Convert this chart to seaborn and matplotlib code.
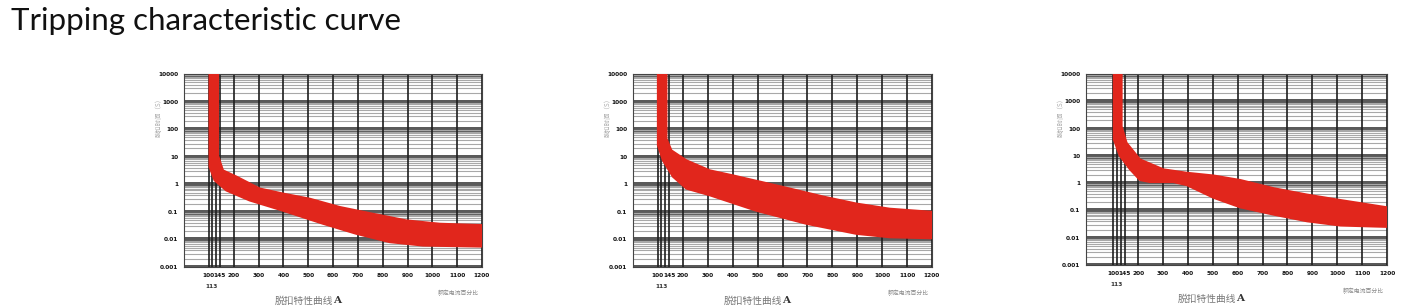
import numpy as np
import pandas as pd
import matplotlib
matplotlib.use("Agg")
import matplotlib.pyplot as plt
from matplotlib.ticker import LogLocator, NullFormatter
import seaborn as sns

# ---------------- data ----------------
title = "Tripping characteristic curve"
x_ticks = [100, 145, 200, 300, 400, 500, 600, 700, 800, 900, 1000, 1100, 1200]
x_tick_labels = ["100", "145", "200", "300", "400", "500", "600", "700", "800", "900", "1000", "1100", "1200"]
x_sub_tick = 113
x_sub_label = "113"
x_grid = [100, 113, 130, 145, 200, 300, 400, 500, 600, 700, 800, 900, 1000, 1100, 1200]
y_ticks = [0.001, 0.01, 0.1, 1, 10, 100, 1000, 10000]
y_tick_labels = ["0.001", "0.01", "0.1", "1", "10", "100", "1000", "10000"]
x_label = "脱扣特性曲线"
x_label_unit = "A"
y_label = "脱扣时间（S）"
note = "额定电流百分比"

# panel 1 band
p1_upper_x = [137, 137, 157, 211, 305, 399, 506, 627, 761, 895, 1030, 1200]
p1_upper_t = [10000, 11, 3.2, 1.9, 0.7, 0.46, 0.3, 0.15, 0.085, 0.049, 0.037, 0.033]
p1_lower_x = [103, 103, 123, 170, 264, 399, 560, 694, 828, 962, 1200]
p1_lower_t = [10000, 4.3, 1.4, 0.6, 0.26, 0.11, 0.037, 0.016, 0.008, 0.006, 0.0055]

# panel 2 band
p2_upper_x = [134, 134, 154, 214, 308, 401, 602, 763, 896, 1030, 1200]
p2_upper_t = [10000, 46, 17, 7.4, 3.2, 2.1, 0.8, 0.36, 0.2, 0.13, 0.1]
p2_lower_x = [100, 100, 120, 160, 214, 308, 495, 696, 896, 1030, 1200]
p2_lower_t = [10000, 26, 7.4, 1.9, 0.7, 0.4, 0.11, 0.037, 0.016, 0.012, 0.011]

# panel 3 band
p3_upper_x = [133, 133, 153, 207, 301, 395, 503, 610, 745, 879, 1013, 1200]
p3_upper_t = [10000, 120, 30, 7.4, 3.2, 2.4, 1.9, 1.3, 0.65, 0.38, 0.24, 0.13]
p3_lower_x = [102, 102, 126, 167, 207, 247, 341, 395, 503, 610, 745, 879, 1013, 1200]
p3_lower_t = [10000, 40, 10, 3.2, 1.3, 1.1, 1.1, 0.85, 0.29, 0.13, 0.07, 0.04, 0.028, 0.025]

panels = [
    (p1_upper_x, p1_upper_t, p1_lower_x, p1_lower_t),
    (p2_upper_x, p2_upper_t, p2_lower_x, p2_lower_t),
    (p3_upper_x, p3_upper_t, p3_lower_x, p3_lower_t),
]

# ---------------- style ----------------
sns.set_style("white")
plt.rcParams["font.family"] = ["DejaVu Sans"]
RED = "#e1261c"
cjk = ["Noto Sans CJK SC", "DejaVu Sans"]

fig = plt.figure(figsize=(14.14, 3.06), dpi=100)
fig.text(11 / 1414, 1 - 21 / 306, title, fontsize=22.5, family="Lato",
         va="center", ha="left", color="#111111")

rects = [
    (184, 74, 482, 267, 0),
    (633, 74, 932, 267, 0),
    (1086, 74, 1387, 265, -10),
]

for (l, t, r, b, x0), (ux, ut, lx, lt) in zip(rects, panels):
    ax = fig.add_axes([l / 1414, 1 - b / 306, (r - l) / 1414, (b - t) / 306])
    ax.set_yscale("log")
    ax.set_xlim(x0, 1200)
    ax.set_ylim(0.001, 10000)

    # grid: minor gray lines, dark decade bands, dark vertical lines
    ax.yaxis.set_minor_locator(LogLocator(base=10, subs=[2, 3, 4, 5, 6, 7, 8, 9], numticks=20))
    ax.yaxis.set_minor_formatter(NullFormatter())
    ax.grid(which="minor", axis="y", color="#a8a8a8", lw=0.8)
    ax.grid(which="major", axis="y", color="#5a5a5a", lw=3.6)
    for xv in x_grid:
        ax.axvline(xv, color="#1e1e1e", lw=1.2, zorder=1)

    # band
    band = pd.DataFrame({"x": list(ux) + list(lx)[::-1], "t": list(ut) + list(lt)[::-1]})
    ax.fill(band["x"], band["t"], color=RED, zorder=3, lw=0)
    sns.lineplot(x=ux, y=ut, ax=ax, color=RED, lw=1.5, sort=False, estimator=None, zorder=4)
    sns.lineplot(x=lx, y=lt, ax=ax, color=RED, lw=1.5, sort=False, estimator=None, zorder=4)

    ax.set_xticks(x_ticks)
    ax.set_xticklabels(x_tick_labels, fontsize=4.2, fontweight="bold", color="#111111")
    ax.set_yticks(y_ticks)
    ax.set_yticklabels(y_tick_labels, fontsize=4.2, fontweight="bold", color="#111111")
    ax.tick_params(length=0, pad=4)
    ax.text(x_sub_tick, -0.09, x_sub_label, transform=ax.get_xaxis_transform(),
            fontsize=4.2, fontweight="bold", color="#333333", ha="center", va="top")

    for s in ax.spines.values():
        s.set_visible(True)
        s.set_color("#444444")
        s.set_linewidth(0.8)

    ax.set_xlabel("")
    ax.set_ylabel("")
    ax.text(0.5, -0.15, x_label, transform=ax.transAxes, fontsize=7, family=cjk,
            color="#777777", ha="right", va="top")
    ax.text(0.5, -0.15, x_label_unit, transform=ax.transAxes, fontsize=7.5, family="DejaVu Serif",
            fontweight="bold", color="#333333", ha="left", va="top")
    ax.text(0.92, -0.12, note, transform=ax.transAxes, fontsize=4.2, family=cjk,
            color="#888888", ha="center", va="top")
    ax.text(-0.085, 0.78, y_label, transform=ax.transAxes, fontsize=4.6, family=cjk,
            color="#aaaaaa", ha="center", va="center", rotation=90)

fig.savefig("out.png", dpi=100)
